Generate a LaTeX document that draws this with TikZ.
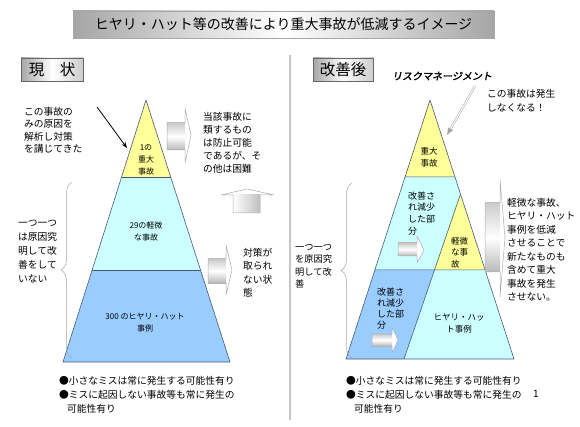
\documentclass[tikz,border=0pt]{standalone}
\usepackage{fontspec}
\setmainfont{Noto Sans CJK JP}
\newfontfamily\riskfont{Noto Sans CJK JP}[FakeSlant=0.2,FakeBold=2]
\usetikzlibrary{arrows.meta,calc,decorations.pathreplacing}

\definecolor{tipyellow}{RGB}{255,255,153}
\definecolor{midcyan}{RGB}{204,255,255}
\definecolor{baseblue}{RGB}{153,204,255}
\definecolor{edgeblue}{RGB}{70,90,120}

% flat block arrow: body x1 y1 x2 y2, head top/bottom y, tip x y
\newcommand\flatarrow[8]{%
  \fill[white] (#3,#5) -- (#7,#8) -- (#3,#6) -- cycle;
  \shade[top color=gray!40, bottom color=gray!55, middle color=white] (#1,#2) rectangle (#3,#4);
  \draw[blockline] (#1,#2) -- (#3,#2) -- (#3,#5) -- (#7,#8) -- (#3,#6) -- (#3,#4) -- (#1,#4) -- cycle;}

\begin{document}
\begin{tikzpicture}[
    x=1pt, y=-1pt,
    header/.style={draw=gray!80!black, line width=0.5pt, minimum height=23pt, inner sep=0pt,
      left color=gray!70, right color=gray!40, middle color=white, font=\fontsize{15.5}{18}\selectfont},
    note/.style={anchor=north west, align=left, inner sep=0pt, font=\fontsize{9.75}{13}\selectfont},
    tier/.style={align=center, inner sep=0pt, font=\fontsize{8}{12}\selectfont},
    layer/.style={draw=edgeblue, line width=0.6pt, line join=round},
    blockline/.style={draw=gray!65, line width=0.5pt, line join=round},
    curly/.style={decorate, decoration={brace, amplitude=11pt}, draw=gray!70, line width=0.5pt},
    pointer/.style={-{Stealth[length=6pt,width=4.5pt]}, line width=0.8pt},
    riskpointer/.style={draw=gray!70, double=white, double distance=1.1pt, line width=0.5pt,
      -{Latex[length=7pt,width=6pt]}}
  ]
  \useasboundingbox (0,0) rectangle (580,427);

  % title and headers
  \node[draw=gray!70, line width=0.5pt, minimum width=421pt, minimum height=27pt, inner sep=0pt,
    left color=gray!70, right color=gray!70, middle color=white,
    font=\fontsize{14}{16}\selectfont] (title) at (283.5,24.5) {ヒヤリ・ハット等の改善により重大事故が低減するイメージ};
  \node[header, minimum width=62pt] (nowhead) at (52,69.5) {現　状};
  \node[header, minimum width=60pt] (afterhead) at (343,69.5) {改善後};
  \draw[gray!45, line width=1.5pt] (290,55) -- (290,420);

  % left pyramid
  \coordinate (apexL) at (146,100);
  \coordinate (baseLW) at (63,362);
  \coordinate (baseLE) at (230,362);
  \coordinate (L1w) at ($(apexL)!0.294!(baseLW)$);
  \coordinate (L1e) at ($(apexL)!0.294!(baseLE)$);
  \coordinate (L2w) at ($(apexL)!0.649!(baseLW)$);
  \coordinate (L2e) at ($(apexL)!0.649!(baseLE)$);
  \fill[tipyellow] (apexL) -- (L1e) -- (L1w) -- cycle;
  \fill[midcyan] (L1w) -- (L1e) -- (L2e) -- (L2w) -- cycle;
  \fill[baseblue] (L2w) -- (L2e) -- (baseLE) -- (baseLW) -- cycle;
  \draw[layer] (apexL) -- (baseLE) -- (baseLW) -- cycle;
  \draw[layer] (L1w) -- (L1e) (L2w) -- (L2e);
  \node[tier] (majorL) at (146,160) {1の\\重大\\事故};
  \node[tier, font=\fontsize{8}{11.5}\selectfont] (minorL) at (146,231.5) {29の軽微\\な事故};
  \node[tier] (nearL) at (145,323) {300 のヒヤリ・ハット\\事例};

  % right pyramid
  \coordinate (apexR) at (430,100);
  \coordinate (baseRW) at (346,359);
  \coordinate (baseRE) at (514,359);
  \coordinate (R1w) at ($(apexR)!0.297!(baseRW)$);
  \coordinate (R1e) at ($(apexR)!0.297!(baseRE)$);
  \coordinate (R2w) at ($(apexR)!0.656!(baseRW)$);
  \coordinate (R2e) at ($(apexR)!0.656!(baseRE)$);
  \coordinate (cutTop) at ($(apexR)!0.363!(baseRE)$);
  \coordinate (cutBot) at (404,359);
  \coordinate (cutMid) at ($(cutTop)!0.4606!(cutBot)$);
  \fill[tipyellow] (apexR) -- (R1e) -- (R1w) -- cycle;
  \fill[midcyan] (R1w) -- (R1e) -- (R2e) -- (R2w) -- cycle;
  \fill[tipyellow] (cutTop) -- (R2e) -- (cutMid) -- cycle;
  \fill[baseblue] (R2w) -- (cutMid) -- (cutBot) -- (baseRW) -- cycle;
  \fill[midcyan] (cutMid) -- (R2e) -- (baseRE) -- (cutBot) -- cycle;
  \draw[layer] (apexR) -- (baseRE) -- (baseRW) -- cycle;
  \draw[layer] (R1w) -- (R1e) (R2w) -- (R2e) (cutTop) -- (cutBot);
  \node[tier, font=\fontsize{8.5}{11.5}\selectfont] (majorR) at (429,157.5) {重大\\事故};
  \node[note, font=\fontsize{9}{11.7}\selectfont] (cutUpper) at (408,191.5) {改善さ\\れ減少\\した部\\分};
  \node[note, font=\fontsize{8.5}{11.5}\selectfont] (minorR) at (451,236.8) {軽微\\な事\\故};
  \node[note, font=\fontsize{9}{11}\selectfont] (cutLower) at (377,287.5) {改善さ\\れ減少\\した部\\分};
  \node[tier, font=\fontsize{8.5}{12}\selectfont] (nearR) at (459,323) {ヒヤリ・ハッ\\ト事例};

  % block arrows
  \flatarrow{167}{123}{185}{150}{108}{163}{191}{135}
  \flatarrow{208}{259}{226}{283}{245}{295}{232}{270}
  \fill[white] (221,195) -- (247,189) -- (274,195) -- cycle;
  \shade[left color=white, right color=gray!50] (233,195) rectangle (260,213);
  \draw[blockline] (233,213) -- (233,195) -- (221,195) -- (247,189) -- (274,195) -- (260,195) -- (260,213) -- cycle;
  \flatarrow{398}{243}{417}{256}{236}{263}{424}{250}
  \flatarrow{372}{334}{392}{346}{327}{353}{398}{340}
  \flatarrow{485}{203}{500}{272}{179}{297}{505}{238}

  % braces
  \draw[curly] (72,358) -- (72,182);
  \draw[curly] (352,358) -- (352,183);

  % left notes
  \node[note, font=\fontsize{9.75}{12.4}\selectfont] (cause) at (24,107) {この事故の\\みの原因を\\解析し対策\\を講じてきた};
  \node[note] (prevent) at (203,112) {当該事故に\\類するもの\\は防止可能\\であるが、そ\\の他は困難};
  \node[note, font=\fontsize{9.75}{13.3}\selectfont] (noaction) at (243,248) {対策が\\取られ\\ない状\\態};
  \node[note, font=\fontsize{9.75}{14}\selectfont] (eachL) at (18,220) {一つ一つ\\は原因究\\明して改\\善をして\\いない};
  \node[note, font=\fontsize{9.75}{14}\selectfont] (bulletsL) at (59,376) {●小さなミスは常に発生する可能性有り\\●ミスに起因しない事故等も常に発生の\\\hspace*{0.8em}可能性有り};

  % right notes
  \node[font=\riskfont\fontsize{10}{12}\selectfont, inner sep=0pt] (risk) at (442,76) {リスクマネージメント};
  \node[note, font=\fontsize{9.75}{14}\selectfont] (vanish) at (487,89) {この事故は発生\\しなくなる！};
  \node[note, font=\fontsize{9.25}{12.5}\selectfont] (eachR) at (295,244) {一つ一つ\\を原因究\\明して改\\善};
  \node[note, font=\fontsize{9.75}{13.5}\selectfont] (reduce) at (507,198) {軽微な事故、\\ヒヤリ・ハット\\事例を低減\\させることで\\新たなものも\\含めて重大\\事故を発生\\させない。};
  \node[note, font=\fontsize{9.75}{14}\selectfont] (bulletsR) at (346,376) {●小さなミスは常に発生する可能性有り\\●ミスに起因しない事故等も常に発生の\\\hspace*{0.8em}可能性有り};
  \node[font=\fontsize{10}{12}\selectfont, inner sep=0pt] (pageno) at (536,394) {1};

  % pointers
  \coordinate (causeTail) at (97,107);
  \coordinate (causeHead) at (127,148);
  \draw[pointer] (causeTail) -- (causeHead);
  \coordinate (riskTail) at (475,86);
  \coordinate (riskHead) at (447,135);
  \draw[riskpointer] (riskTail) -- (riskHead);
\end{tikzpicture}
\end{document}
